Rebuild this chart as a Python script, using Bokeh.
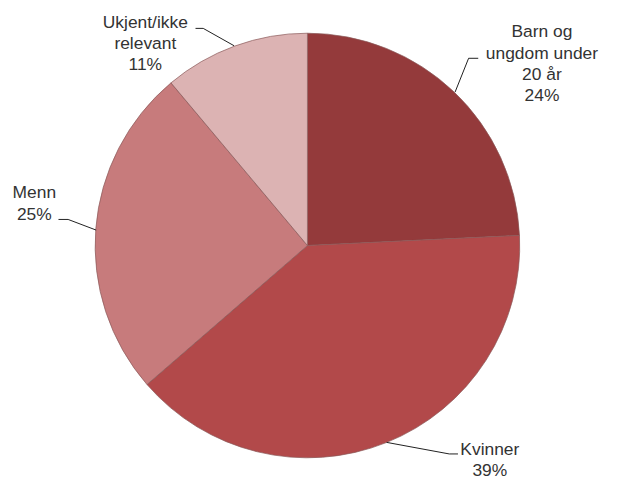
import math
from bokeh.plotting import figure
from bokeh.models import Range1d, ColumnDataSource
from bokeh.core.properties import value
from bokeh.embed import file_html
from bokeh.resources import INLINE

# ---- data ----
categories = ["Barn og ungdom under 20 år", "Kvinner", "Menn", "Ukjent/ikke relevant"]
values = [24, 39, 25, 11]
label_lines = [["Barn og", "ungdom under", "20 år"], ["Kvinner"], ["Menn"], ["Ukjent/ikke", "relevant"]]
colors = ["#943a3b", "#b2494a", "#c77b7c", "#dcb3b3"]

# ---- layout ----
W, H = 609, 481
S = 0.965          # scale of reference layout into the figure
OX, OY = 2, -3     # offset (px)
def dx(sx): return S * sx + OX
def dy(sy): return H - (S * sy + OY)

cx, cy, R = dx(316), dy(257), 220 * S
label_pos = [(559, 35), (505, 468), (33, 202), (148, 25)]  # center of first line
line_h = 22
leaders = [
    [(493, 63), (483, 63), (469, 98)],
    [(472, 473), (463, 473), (398, 461)],
    [(58, 230), (68, 230), (97, 241)],
    [(200, 32), (208, 32), (240, 50)],
]

p = figure(width=W, height=H, output_backend="svg", toolbar_location=None,
           x_range=Range1d(0, W), y_range=Range1d(0, H), min_border=0)
p.axis.visible = False
p.grid.visible = False
p.outline_line_color = None
p.background_fill_color = "white"
p.border_fill_color = "white"

total = sum(values)
start = math.pi / 2
starts, ends = [], []
for v in values:
    a = v / total * 2 * math.pi
    starts.append(start)
    ends.append(start - a)
    start -= a

src = ColumnDataSource(dict(x=[cx] * 4, y=[cy] * 4, s=starts, e=ends, c=colors))
p.wedge(x="x", y="y", radius=R, start_angle="s", end_angle="e", direction="clock",
        fill_color="c", line_color="#8a5a5a", line_width=1, line_alpha=0.7, source=src)

tx, ty, tt = [], [], []
for lines, v, (sx, sy) in zip(label_lines, values, label_pos):
    for i, t in enumerate(lines + [f"{v}%"]):
        tx.append(dx(sx))
        ty.append(dy(sy + i * line_h))
        tt.append(t)
p.text(x=tx, y=ty, text=tt, text_align="center", text_baseline="middle",
       text_font=value("Liberation Sans"), text_font_size=f"{18 * S:.1f}px", text_color="#333333")

for pts in leaders:
    p.line([dx(a) for a, b in pts], [dy(b) for a, b in pts], line_color="#222222", line_width=1)

open("out.html", "w").write(file_html(p, INLINE))
